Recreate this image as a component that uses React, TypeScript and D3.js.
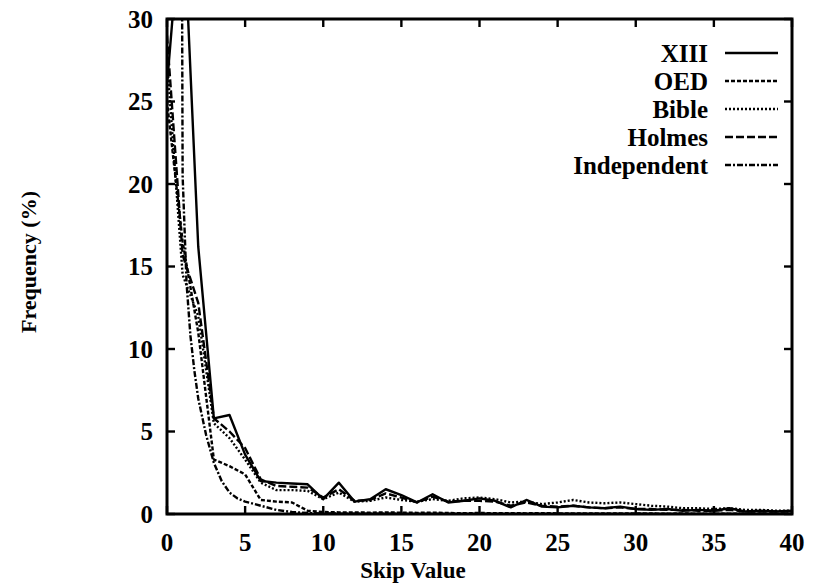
import React from 'react';
import * as d3 from 'd3';

const skipValues = [0,1,2,3,4,5,6,7,8,9,10,11,12,13,14,15,16,17,18,19,20,21,22,23,24,25,26,27,28,29,30,31,32,33,34,35,36,37,38,39,40];
const xiii = [26,37.5,16.2,5.8,6.0,3.6,2.0,1.9,1.85,1.8,0.9,1.9,0.75,0.9,1.5,1.15,0.7,1.2,0.7,0.8,0.95,0.8,0.4,0.85,0.45,0.4,0.5,0.4,0.35,0.45,0.3,0.25,0.3,0.2,0.25,0.2,0.35,0.15,0.2,0.15,0.2];
const oed = [25,16.5,11.0,3.3,2.9,2.4,0.85,0.75,0.7,0.2,0.12,0.1,0.1,0.08,0.1,0.08,0.07,0.08,0.06,0.05,0.06,0.05,0.05,0.04,0.05,0.04,0.04,0.03,0.04,0.03,0.03,0.03,0.02,0.03,0.02,0.02,0.02,0.02,0.02,0.02,0.02];
const bible = [27.5,14.5,12.0,5.5,4.6,3.3,1.9,1.45,1.45,1.4,0.9,1.3,0.75,0.8,1.0,0.85,0.75,0.9,0.8,0.95,1.0,0.9,0.7,0.75,0.6,0.7,0.85,0.7,0.65,0.7,0.6,0.5,0.45,0.35,0.35,0.3,0.35,0.25,0.25,0.2,0.2];
const holmes = [29,15.7,12.8,5.8,5.0,4.0,2.1,1.7,1.65,1.6,1.0,1.5,0.8,0.85,1.25,1.0,0.7,1.05,0.75,0.8,0.8,0.75,0.5,0.7,0.5,0.45,0.5,0.4,0.35,0.4,0.3,0.3,0.25,0.25,0.2,0.2,0.25,0.15,0.15,0.15,0.15];
const indepX = [0.92,1.0,1.25,1.5,1.75,2,2.5,3,3.5,4,4.5,5,6,7,8,9,10,12,15,20,25,30,35,40];
const indepY = [45,20.5,14,10.8,8.7,7.0,4.8,3.1,2.0,1.3,0.95,0.75,0.5,0.25,0.12,0.06,0.03,0.02,0.01,0,0,0,0,0];

const seriesNames = ['XIII','OED','Bible','Holmes','Independent'];
const xTicks = [0,5,10,15,20,25,30,35,40];
const yTicks = [0,5,10,15,20,25,30];

const W = 814, H = 586;
const L = 167, R = 792, T = 19, B = 514;
const FONT = '"Liberation Serif", "Times New Roman", serif';

export default function App() {
  const x = d3.scaleLinear().domain([0, 40]).range([L, R]);
  const y = d3.scaleLinear().domain([0, 30]).range([B, T]);
  const line = d3.line<[number, number]>().x(d => x(d[0])).y(d => y(d[1]));

  const series = [
    { name: seriesNames[0], pts: skipValues.map((s, i) => [s, xiii[i]] as [number, number]), dash: '' },
    { name: seriesNames[1], pts: skipValues.map((s, i) => [s, oed[i]] as [number, number]), dash: '4 2' },
    { name: seriesNames[2], pts: skipValues.map((s, i) => [s, bible[i]] as [number, number]), dash: '2 2' },
    { name: seriesNames[3], pts: skipValues.map((s, i) => [s, holmes[i]] as [number, number]), dash: '8 3' },
    { name: seriesNames[4], pts: indepX.map((s, i) => [s, indepY[i]] as [number, number]), dash: '6 2 2 2' },
  ];

  const tickLen = 8;
  const legendY0 = 53, legendStep = 28;

  return (
    <svg width={W} height={H} style={{ position: 'absolute', left: 0, top: 0, background: '#fff' }}
      fontFamily={FONT} fontWeight="bold">
      <defs>
        <clipPath id="plotclip">
          <rect x={L} y={T} width={R - L} height={B - T} />
        </clipPath>
      </defs>
      <rect x={0} y={0} width={W} height={H} fill="#fff" />
      <g clipPath="url(#plotclip)">
        {series.map(s => (
          <path key={s.name} d={line(s.pts) || ''} fill="none" stroke="#000" strokeWidth={2.4}
            strokeDasharray={s.dash || undefined} strokeLinejoin="round" />
        ))}
      </g>
      <rect x={L} y={T} width={R - L} height={B - T} fill="none" stroke="#000" strokeWidth={3} />
      {xTicks.map(t => (
        <g key={'xt' + t}>
          <line x1={x(t)} x2={x(t)} y1={B} y2={B - tickLen} stroke="#000" strokeWidth={2.4} />
          <line x1={x(t)} x2={x(t)} y1={T} y2={T + tickLen} stroke="#000" strokeWidth={2.4} />
          <text x={x(t)} y={551} textAnchor="middle" fontSize={25}>{t}</text>
        </g>
      ))}
      {yTicks.map(t => (
        <g key={'yt' + t}>
          <line x1={L} x2={L + tickLen} y1={y(t)} y2={y(t)} stroke="#000" strokeWidth={2.4} />
          <line x1={R} x2={R - tickLen} y1={y(t)} y2={y(t)} stroke="#000" strokeWidth={2.4} />
          <text x={153} y={y(t)} dy="0.35em" textAnchor="end" fontSize={25}>{t}</text>
        </g>
      ))}
      <text x={413} y={578} textAnchor="middle" fontSize={23}>Skip Value</text>
      <text transform={`translate(36,262) rotate(-90)`} textAnchor="middle" fontSize={22}>Frequency (%)</text>
      {series.map((s, i) => (
        <g key={'lg' + s.name}>
          <text x={708} y={legendY0 + i * legendStep} dy="0.35em" textAnchor="end" fontSize={25}>{s.name}</text>
          <line x1={725} x2={778} y1={legendY0 + i * legendStep} y2={legendY0 + i * legendStep}
            stroke="#000" strokeWidth={2.4} strokeDasharray={s.dash || undefined} />
        </g>
      ))}
    </svg>
  );
}
